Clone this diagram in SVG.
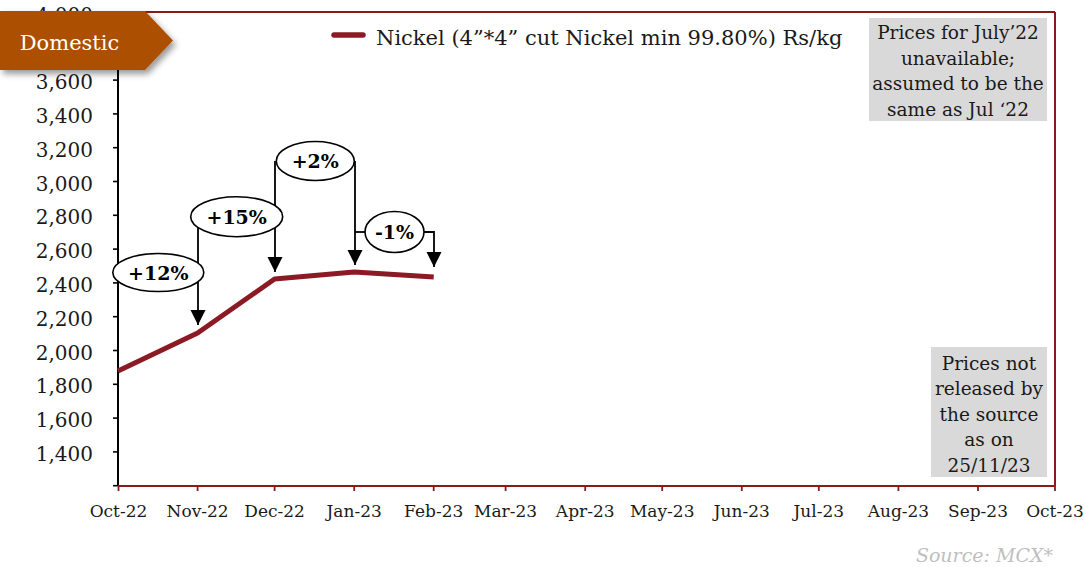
<svg xmlns="http://www.w3.org/2000/svg" width="1084" height="567" viewBox="0 0 1084 567">
  <style>
    text { font-family: "DejaVu Serif", "Liberation Serif", serif; fill: #1a1a1a; }
    .ylab { font-size: 20px; text-anchor: end; }
    .xlab { font-size: 17px; text-anchor: middle; }
    .note { font-size: 18.5px; text-anchor: middle; }
    .call { font-size: 19px; font-weight: bold; text-anchor: middle; fill: #000; }
    .bubble { fill: #ffffff; stroke: #000; stroke-width: 1.6; }
    .conn { fill: none; stroke: #000; stroke-width: 1.8; }
    .arrow { marker-end: url(#arr); }
    .ytick { stroke: #000; stroke-width: 1.6; }
    .xtick { stroke: #8b1a1a; stroke-width: 1.8; }
    .box { fill: #d9d9d9; }
  </style>
  <defs>
    <marker id="arr" markerUnits="userSpaceOnUse" markerWidth="16" markerHeight="16" refX="15" refY="7.5" orient="auto">
      <path d="M0,0 L15,7.5 L0,15 Z" fill="#000"/>
    </marker>
    <filter id="shadow" x="-10%" y="-20%" width="130%" height="160%">
      <feDropShadow dx="3" dy="4" stdDeviation="3" flood-color="#000" flood-opacity="0.4"/>
    </filter>
  </defs>
  <rect width="1084" height="567" fill="#ffffff"/>

  <g id="axes">
    <line x1="118" y1="12" x2="1055" y2="12" stroke="#8b1a1a" stroke-width="2"/>
    <line x1="1055" y1="12" x2="1055" y2="486" stroke="#8b1a1a" stroke-width="2"/>
    <line x1="118" y1="12" x2="118" y2="486" stroke="#000" stroke-width="2"/>
    <g class="ytick">
      <line x1="113" y1="485.7" x2="118" y2="485.7"/>
      <line x1="113" y1="451.9" x2="118" y2="451.9"/>
      <line x1="113" y1="418.1" x2="118" y2="418.1"/>
      <line x1="113" y1="384.3" x2="118" y2="384.3"/>
      <line x1="113" y1="350.5" x2="118" y2="350.5"/>
      <line x1="113" y1="316.7" x2="118" y2="316.7"/>
      <line x1="113" y1="282.9" x2="118" y2="282.9"/>
      <line x1="113" y1="249.1" x2="118" y2="249.1"/>
      <line x1="113" y1="215.3" x2="118" y2="215.3"/>
      <line x1="113" y1="181.5" x2="118" y2="181.5"/>
      <line x1="113" y1="147.7" x2="118" y2="147.7"/>
      <line x1="113" y1="113.9" x2="118" y2="113.9"/>
      <line x1="113" y1="80.1" x2="118" y2="80.1"/>
      <line x1="113" y1="46.3" x2="118" y2="46.3"/>
      <line x1="113" y1="12.5" x2="118" y2="12.5"/>
    </g>
    <line x1="118" y1="486" x2="1055" y2="486" stroke="#8b1a1a" stroke-width="2"/>
    <g class="xtick">
      <line x1="118.5" y1="486" x2="118.5" y2="491"/>
      <line x1="197.6" y1="486" x2="197.6" y2="491"/>
      <line x1="274.6" y1="486" x2="274.6" y2="491"/>
      <line x1="354.2" y1="486" x2="354.2" y2="491"/>
      <line x1="433.7" y1="486" x2="433.7" y2="491"/>
      <line x1="505.6" y1="486" x2="505.6" y2="491"/>
      <line x1="585.2" y1="486" x2="585.2" y2="491"/>
      <line x1="662.2" y1="486" x2="662.2" y2="491"/>
      <line x1="741.8" y1="486" x2="741.8" y2="491"/>
      <line x1="818.8" y1="486" x2="818.8" y2="491"/>
      <line x1="898.4" y1="486" x2="898.4" y2="491"/>
      <line x1="978" y1="486" x2="978" y2="491"/>
      <line x1="1055" y1="486" x2="1055" y2="491"/>
    </g>
    <g id="y-labels">
      <text class="ylab" x="93" y="461">1,400</text>
      <text class="ylab" x="93" y="427.1">1,600</text>
      <text class="ylab" x="93" y="393.3">1,800</text>
      <text class="ylab" x="93" y="359.5">2,000</text>
      <text class="ylab" x="93" y="325.7">2,200</text>
      <text class="ylab" x="93" y="291.9">2,400</text>
      <text class="ylab" x="93" y="258.1">2,600</text>
      <text class="ylab" x="93" y="224.3">2,800</text>
      <text class="ylab" x="93" y="190.5">3,000</text>
      <text class="ylab" x="93" y="156.7">3,200</text>
      <text class="ylab" x="93" y="122.9">3,400</text>
      <text class="ylab" x="93" y="89.1">3,600</text>
      <text class="ylab" x="93" y="21.5">4,000</text>
    </g>
    <g id="x-labels">
      <text class="xlab" x="118.5" y="517">Oct-22</text>
      <text class="xlab" x="197.6" y="517">Nov-22</text>
      <text class="xlab" x="274.6" y="517">Dec-22</text>
      <text class="xlab" x="354.2" y="517">Jan-23</text>
      <text class="xlab" x="433.7" y="517">Feb-23</text>
      <text class="xlab" x="505.6" y="517">Mar-23</text>
      <text class="xlab" x="585.2" y="517">Apr-23</text>
      <text class="xlab" x="662.2" y="517">May-23</text>
      <text class="xlab" x="741.8" y="517">Jun-23</text>
      <text class="xlab" x="818.8" y="517">Jul-23</text>
      <text class="xlab" x="898.4" y="517">Aug-23</text>
      <text class="xlab" x="978" y="517">Sep-23</text>
      <text class="xlab" x="1055" y="517">Oct-23</text>
    </g>
  </g>

  <g id="series">
    <polyline points="118,371 197.6,333 274.6,279 354.2,272 433.7,277" fill="none" stroke="#8b1a24" stroke-width="5" stroke-linejoin="round"/>
  </g>

  <g id="legend">
    <line x1="334" y1="35" x2="363" y2="35" stroke="#8b1a24" stroke-width="5.5" stroke-linecap="round"/>
    <text x="376" y="45" font-size="21">Nickel (4”*4” cut Nickel min 99.80%) Rs/kg</text>
  </g>

  <g id="banner">
    <polygon points="0,11 145,11 173,40.5 145,70 0,70" fill="#ad5000" filter="url(#shadow)"/>
    <text x="69.5" y="50" font-size="21" text-anchor="middle" style="fill:#ffffff">Domestic</text>
  </g>

  <g id="note-july">
    <rect class="box" x="869" y="18" width="178" height="103"/>
    <text class="note" x="958" y="39">Prices for July’22</text>
    <text class="note" x="958" y="64.5">unavailable;</text>
    <text class="note" x="958" y="90">assumed to be the</text>
    <text class="note" x="958" y="115.5">same as Jul ‘22</text>
  </g>

  <g id="note-release">
    <rect class="box" x="931" y="347" width="116" height="130"/>
    <text class="note" x="989" y="369.5">Prices not</text>
    <text class="note" x="989" y="395">released by</text>
    <text class="note" x="989" y="420.5">the source</text>
    <text class="note" x="989" y="446">as on</text>
    <text class="note" x="989" y="471.5">25/11/23</text>
  </g>

  <g id="connectors">
    <path class="conn" d="M198,227 V265"/>
    <path class="conn arrow" d="M198,262 V325"/>
    <path class="conn" d="M275,161 V206"/>
    <path class="conn arrow" d="M275,204 V272"/>
    <path class="conn arrow" d="M355,161 V265"/>
    <path class="conn" d="M355,232 H366"/>
    <path class="conn arrow" d="M423,232 H434 V267"/>
  </g>

  <g id="callout-12">
    <ellipse class="bubble" cx="158.3" cy="272.5" rx="45.5" ry="19"/>
    <text class="call" x="158.3" y="279.5">+12%</text>
  </g>
  <g id="callout-15">
    <ellipse class="bubble" cx="236.7" cy="216.7" rx="46" ry="20"/>
    <text class="call" x="236.7" y="223.7">+15%</text>
  </g>
  <g id="callout-2">
    <ellipse class="bubble" cx="315.3" cy="161" rx="39" ry="19.5"/>
    <text class="call" x="315.3" y="168">+2%</text>
  </g>
  <g id="callout-1">
    <ellipse class="bubble" cx="394.5" cy="232" rx="29.5" ry="20.5"/>
    <text class="call" x="394.5" y="239">-1%</text>
  </g>

  <g id="source">
    <text x="1053" y="562" font-size="19" font-style="italic" text-anchor="end" style="fill:#bfbfbf">Source: MCX*</text>
  </g>
</svg>
